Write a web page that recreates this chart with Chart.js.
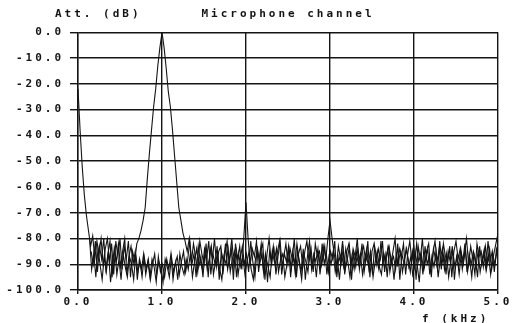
<!DOCTYPE html>
<html>
<head>
<meta charset="utf-8">
<script src="https://cdn.jsdelivr.net/npm/chart.js@4/dist/chart.umd.min.js"></script>
<style>
  html, body { margin: 0; padding: 0; background: #fff; }
  #box { width: 515px; height: 323px; }
</style>
</head>
<body>
<div id="box"><canvas id="spectrum"></canvas></div>
<script>
// sample grid: one value every 0.025 kHz from 0.0 to 5.0
const freqStep = 0.025;
const freqMin = 0, freqMax = 5;
const attMin = -100, attMax = 0;
const xTicks = [0, 1, 2, 3, 4, 5];

// main trace (roll-off at 0 Hz, 1 kHz tone, harmonics at 2 and 3 kHz)
const attMain = [
  -22, -38, -52, -63, -71, -77, -83, -79, -88, -81,
  -86, -80, -91, -84, -80, -89, -82, -94, -81, -87,
  -80, -92, -83, -88, -81, -95, -85, -89, -82, -80,
  -77, -73, -68, -57, -47, -38, -29, -22, -13, -6,
  0, -6, -14, -23, -29, -38, -48, -58, -68, -73,
  -78, -81, -85, -80, -89, -82, -87, -93, -81, -86,
  -90, -82, -95, -84, -88, -80, -91, -85, -83, -94,
  -86, -81, -90, -84, -96, -82, -88, -83, -92, -79,
  -66, -80, -90, -84, -87, -81, -93, -85, -82, -96,
  -86, -80, -89, -83, -91, -85, -81, -94, -87, -82,
  -90, -84, -88, -80, -95, -86, -83, -91, -85, -81,
  -89, -84, -93, -82, -87, -85, -90, -83, -88, -80,
  -73, -80, -86, -91, -83, -88, -81, -94, -85, -82,
  -90, -84, -87, -80, -92, -86, -83, -89, -81, -95,
  -85, -82, -90, -84, -88, -81, -93, -86, -83, -90,
  -85, -80, -91, -84, -87, -82, -94, -86, -81, -89,
  -84, -96, -83, -88, -80, -91, -85, -82, -93, -86,
  -81, -89, -84, -92, -82, -87, -90, -83, -95, -85,
  -81, -88, -84, -92, -86, -80, -90, -83, -88, -94,
  -82, -87, -85, -91, -83, -89, -84, -92, -86, -82,
  -78
];

// second sweep: noise floor only (sampled half a step later)
const attFloor = [
  null, null, null, null, null, -80, -92, -86, -95, -84,
  -90, -96, -87, -93, -85, -97, -89, -84, -94, -88,
  -96, -86, -91, -95, -87, -90, -96, -86, -93, -89,
  -95, -87, -92, -88, -96, -90, -86, -94, -89, -92,
  -97, -88, -91, -95, -87, -93, -89, -96, -86, -91,
  -94, -88, -92, -86, -95, -89, -84, -91, -87, -95,
  -85, -92, -88, -83, -94, -89, -86, -92, -96, -87,
  -90, -84, -93, -88, -85, -95, -86, -91, -87, -94,
  -89, -85, -92, -96, -88, -84, -90, -86, -94, -87,
  -91, -95, -85, -89, -84, -93, -88, -86, -95, -90,
  -84, -92, -87, -94, -85, -90, -96, -86, -89, -93,
  -84, -91, -87, -95, -85, -92, -88, -83, -94, -87,
  -90, -85, -93, -88, -96, -86, -91, -84, -89, -95,
  -87, -92, -85, -90, -86, -94, -88, -84, -92, -87,
  -95, -89, -85, -91, -94, -86, -90, -84, -93, -88,
  -96, -86, -90, -85, -93, -88, -84, -91, -87, -95,
  -85, -90, -97, -86, -92, -88, -84, -94, -87, -91,
  -85, -95, -88, -84, -92, -86, -95, -89, -85, -91,
  -87, -94, -86, -90, -84, -93, -88, -95, -86, -91,
  -85, -93, -88, -84, -92, -87, -94, -86, -90, -85,
  -88
];

// third sweep: noise floor only (sampled a quarter step later)
const attSweep3 = [
  null, null, null, null, null, null, -85, -90, -81, -93,
  -83, -88, -80, -92, -86, -81, -95, -84, -89, -82,
  -91, -85, -80, -94, -87, -83, -90, -85, -96, -88,
  -92, -86, -94, -89, -95, -88, -91, -97, -87, -93,
  -90, -95, -88, -92, -86, -96, -90, -87, -94, -89,
  -85, -93, -88, -81, -90, -86, -95, -83, -89, -92,
  -84, -88, -81, -94, -86, -90, -83, -96, -85, -89,
  -82, -92, -87, -80, -91, -85, -94, -88, -83, -90,
  -86, -93, -81, -89, -95, -84, -88, -82, -92, -86,
  -97, -85, -90, -83, -94, -87, -81, -91, -86, -89,
  -83, -95, -85, -90, -82, -88, -93, -84, -96, -87,
  -81, -92, -86, -89, -84, -94, -82, -90, -86, -93,
  -85, -88, -81, -95, -87, -90, -84, -92, -88, -83,
  -96, -86, -91, -84, -89, -82, -93, -87, -90, -85,
  -94, -83, -88, -92, -81, -90, -86, -95, -84, -89,
  -87, -92, -82, -96, -86, -90, -84, -88, -93, -85,
  -91, -82, -89, -86, -94, -83, -90, -87, -95, -84,
  -88, -92, -81, -90, -86, -94, -85, -89, -83, -96,
  -87, -91, -84, -89, -82, -93, -86, -90, -85, -88,
  -95, -83, -90, -86, -92, -81, -89, -85, -93, -84,
  -87
];

function toPoints(arr, shift) {
  return arr.map((v, i) => ({ x: i * freqStep + shift, y: v }));
}

const ink = '#141414';
const plotFont = { family: 'DejaVu Sans Mono', size: 11, weight: 'bold' };

// wide plotter-style lettering
const spacing = {
  id: 'spacing',
  beforeUpdate(chart) { chart.ctx.letterSpacing = '3px'; },
  beforeDraw(chart) { chart.ctx.letterSpacing = '3px'; }
};

// corner labels of the plot
const axisNotes = {
  id: 'axisNotes',
  afterDraw(chart) {
    const ctx = chart.ctx;
    const a = chart.chartArea;
    ctx.save();
    ctx.letterSpacing = '3px';
    ctx.fillStyle = ink;
    ctx.font = 'bold 11px "DejaVu Sans Mono"';
    ctx.textAlign = 'left';
    ctx.textBaseline = 'middle';
    ctx.fillText('Att. (dB)', a.left - 23, 14);
    ctx.fillText('f (kHz)', a.right - 76, a.bottom + 29);
    ctx.restore();
  }
};

function trace(values, shift) {
  return {
    data: toPoints(values, shift),
    borderColor: ink,
    borderWidth: 1.1,
    pointRadius: 0,
    tension: 0,
    spanGaps: false
  };
}

new Chart(document.getElementById('spectrum'), {
  type: 'line',
  data: {
    datasets: [
      trace(attMain, 0),
      trace(attFloor, freqStep / 2),
      trace(attSweep3, freqStep / 4)
    ]
  },
  options: {
    responsive: true,
    maintainAspectRatio: false,
    animation: false,
    events: [],
    layout: { padding: { left: 0, right: 17, top: 0, bottom: 0 } },
    plugins: {
      legend: { display: false },
      tooltip: { enabled: false },
      title: {
        display: true,
        text: 'Microphone channel',
        fullSize: false,
        color: ink,
        font: { family: 'DejaVu Sans Mono', size: 11, weight: 'bold' },
        padding: { top: 8, bottom: 11 }
      }
    },
    scales: {
      x: {
        type: 'linear',
        min: freqMin,
        max: freqMax,
        afterFit(s) { s.height = 33; },
        afterBuildTicks(s) { s.ticks = xTicks.map(v => ({ value: v })); },
        grid: { color: ink, lineWidth: 1.4, tickLength: 4, drawTicks: true },
        border: { color: ink, width: 1.4 },
        ticks: {
          color: ink,
          font: plotFont,
          padding: 2,
          maxRotation: 0,
          callback: v => v.toFixed(1)
        }
      },
      y: {
        min: attMin,
        max: attMax,
        afterFit(s) { s.width = 78; },
        grid: { color: ink, lineWidth: 1.4, tickLength: 8 },
        border: { color: ink, width: 1.4 },
        ticks: {
          stepSize: 10,
          color: ink,
          font: plotFont,
          padding: 6,
          callback: v => v.toFixed(1)
        }
      }
    }
  },
  plugins: [spacing, axisNotes]
});
</script>
</body>
</html>
